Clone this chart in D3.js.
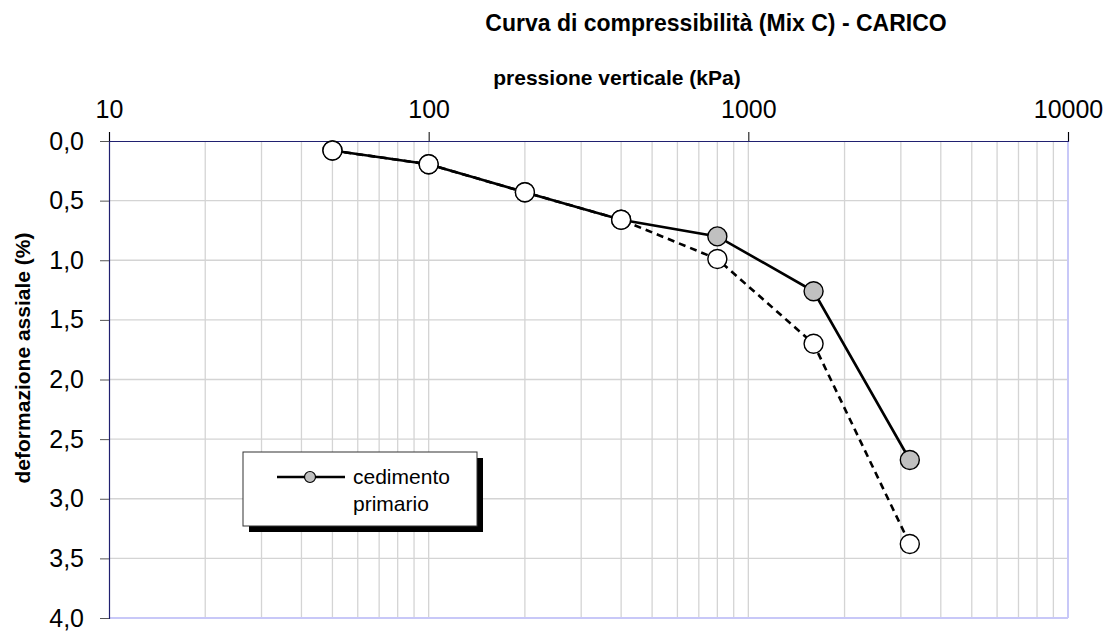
<!DOCTYPE html>
<html>
<head>
<meta charset="utf-8">
<script src="https://cdn.jsdelivr.net/npm/d3@7"></script>
<style>
  html, body { margin: 0; padding: 0; background: #fff; }
  svg { display: block; font-family: "Liberation Sans", Arial, sans-serif; }
</style>
</head>
<body>
<svg id="chart" width="1113" height="635"></svg>
<script>
// ---- data ----
const pressures = [50, 100, 200, 400, 800, 1600, 3200];           // kPa
const primario  = [0.08, 0.195, 0.43, 0.66, 0.80, 1.26, 2.675];     // cedimento primario (%)
const totale    = [0.08, 0.195, 0.43, 0.66, 0.99, 1.70, 3.38];      // deformazione totale (%)
const xTicks = [10, 100, 1000, 10000];
const yTicks = [0, 0.5, 1.0, 1.5, 2.0, 2.5, 3.0, 3.5, 4.0];
const titleText = "Curva di compressibilità (Mix C) - CARICO";
const xTitle = "pressione verticale (kPa)";
const yTitle = "deformazione assiale (%)";
const legendLabel = ["cedimento", "primario"];

// ---- layout ----
const svg = d3.select("#chart");
const L = 109, R = 1068, T = 141, B = 618;

const x = d3.scaleLog().domain([10, 10000]).range([L, R]);
const y = d3.scaleLinear().domain([0, 4]).range([T, B]);

// minor grid values
const minor = [];
for (let d = 10; d < 10000; d *= 10) for (let k = 2; k <= 9; k++) minor.push(d * k);

const grid = svg.append("g");
grid.selectAll("line.vx").data(minor.concat(xTicks.slice(1, 3))).join("line")
  .attr("x1", d => x(d)).attr("x2", d => x(d))
  .attr("y1", T).attr("y2", B)
  .attr("stroke", "#d4d4d4").attr("stroke-width", 1.3);
grid.selectAll("line.hy").data(yTicks.slice(1, -1)).join("line")
  .attr("x1", L).attr("x2", R)
  .attr("y1", d => y(d)).attr("y2", d => y(d))
  .attr("stroke", "#d4d4d4").attr("stroke-width", 1.3);

// right & bottom frame (light lavender)
svg.append("line").attr("x1", R).attr("x2", R).attr("y1", T).attr("y2", B)
  .attr("stroke", "#c8c8f8").attr("stroke-width", 2);
svg.append("line").attr("x1", L).attr("x2", R).attr("y1", B).attr("y2", B)
  .attr("stroke", "#c8c8f8").attr("stroke-width", 2);

// axes
const xAxis = d3.axisTop(x).tickValues(xTicks).tickFormat(d3.format("d"))
  .tickSize(9).tickPadding(14);
const gx = svg.append("g").attr("transform", `translate(0,${T})`).call(xAxis);
gx.select(".domain").attr("stroke", "#202070").attr("stroke-width", 1.2);
gx.selectAll(".tick line").attr("stroke", "#000");
gx.selectAll(".tick text").attr("font-size", 25).attr("fill", "#000")
  .attr("font-family", "Liberation Sans, Arial, sans-serif");

const yAxis = d3.axisLeft(y).tickValues(yTicks)
  .tickFormat(d => d3.format(".1f")(d).replace(".", ","))
  .tickSize(9).tickPadding(16);
const gy = svg.append("g").attr("transform", `translate(${L},0)`).call(yAxis);
gy.select(".domain").attr("stroke", "#202070").attr("stroke-width", 1.2);
gy.selectAll(".tick line").attr("stroke", "#555");
gy.selectAll(".tick text").attr("font-size", 25).attr("fill", "#000")
  .attr("font-family", "Liberation Sans, Arial, sans-serif");

// titles
svg.append("text").attr("x", 716).attr("y", 31).attr("text-anchor", "middle")
  .attr("font-size", 23).attr("font-weight", "bold").text(titleText);
svg.append("text").attr("x", 617).attr("y", 85).attr("text-anchor", "middle")
  .attr("font-size", 21).attr("font-weight", "bold").text(xTitle);
svg.append("text").attr("transform", `translate(30,358) rotate(-90)`)
  .attr("text-anchor", "middle")
  .attr("font-size", 21).attr("font-weight", "bold").text(yTitle);

// series
const pts = (ys) => pressures.map((p, i) => [p, ys[i]]);
const line = d3.line().x(d => x(d[0])).y(d => y(d[1]));

svg.append("path").datum(pts(primario)).attr("d", line)
  .attr("fill", "none").attr("stroke", "#000").attr("stroke-width", 2.6);
svg.append("path").datum(pts(totale)).attr("d", line)
  .attr("fill", "none").attr("stroke", "#000").attr("stroke-width", 2.6)
  .attr("stroke-dasharray", "7,5");

svg.append("g").selectAll("circle").data(pts(primario)).join("circle")
  .attr("cx", d => x(d[0])).attr("cy", d => y(d[1])).attr("r", 9.5)
  .attr("fill", "#c0c0c0").attr("stroke", "#000").attr("stroke-width", 1.4);
svg.append("g").selectAll("circle").data(pts(totale)).join("circle")
  .attr("cx", d => x(d[0])).attr("cy", d => y(d[1])).attr("r", 9.5)
  .attr("fill", "#fff").attr("stroke", "#000").attr("stroke-width", 1.4);

// legend
const lg = svg.append("g");
lg.append("rect").attr("x", 249).attr("y", 458).attr("width", 234).attr("height", 74)
  .attr("fill", "#000");
lg.append("rect").attr("x", 243).attr("y", 452).attr("width", 234).attr("height", 74)
  .attr("fill", "#fff").attr("stroke", "#333").attr("stroke-width", 1);
lg.append("line").attr("x1", 277).attr("x2", 345).attr("y1", 477).attr("y2", 477)
  .attr("stroke", "#000").attr("stroke-width", 2.6);
lg.append("circle").attr("cx", 310).attr("cy", 477).attr("r", 5.5)
  .attr("fill", "#c0c0c0").attr("stroke", "#000").attr("stroke-width", 1.2);
lg.append("text").attr("x", 353).attr("y", 484).attr("font-size", 21).text(legendLabel[0]);
lg.append("text").attr("x", 353).attr("y", 511).attr("font-size", 21).text(legendLabel[1]);
</script>
</body>
</html>
